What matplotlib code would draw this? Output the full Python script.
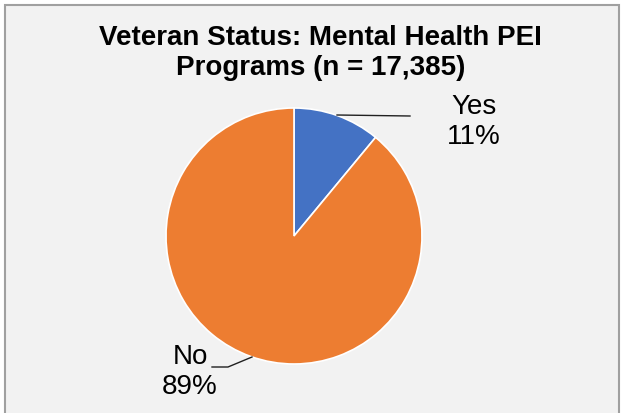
import matplotlib
matplotlib.use("Agg")
import matplotlib.pyplot as plt

categories = ["Yes", "No"]
values = [11, 89]
colors = ["#4472C4", "#ED7D31"]
title = "Veteran Status: Mental Health PEI\nPrograms (n = 17,385)"

plt.rcParams['font.family'] = ['Liberation Sans', 'DejaVu Sans']

W, H = 623, 414
fig = plt.figure(figsize=(W/100, H/100), dpi=100, facecolor="white")
ax = fig.add_axes([0, 0, 1, 1])
ax.set_xlim(0, W)
ax.set_ylim(0, H)
ax.set_aspect("equal")
ax.axis("off")

# background panel with border
bg = plt.Rectangle((4.5, -5), 615, H - 5.5 + 5, facecolor="#F2F2F2",
                   edgecolor="#A0A0A0", linewidth=1.5, zorder=0)
ax.add_patch(bg)

cx, cy, r = 294, H - 237, 128
wedges, _ = ax.pie(values, colors=colors, startangle=90, counterclock=False,
                   center=(cx, cy), radius=r, frame=True,
                   wedgeprops=dict(edgecolor="white", linewidth=1.2))
ax.set_xlim(0, W)
ax.set_ylim(0, H)
ax.axis("off")

ax.text(W/2 + 9, H - 53, title, ha="center", va="center", fontsize=20,
        fontweight="bold", linespacing=1.17)

fs = 20
ax.text(474, H - 122, f"{categories[0]}\n{values[0]}%", ha="center", va="center",
        fontsize=fs, linespacing=1.17)
ax.text(190, H - 372, f"{categories[1]}\n{values[1]}%", ha="center", va="center",
        fontsize=fs, linespacing=1.17)

# leader lines
ax.plot([337, 410], [H - 116, H - 117], color="#202020", lw=1)
ax.plot([252, 228, 212], [H - 358, H - 368, H - 368], color="#202020", lw=1)

fig.savefig("out.png", dpi=100, facecolor="white")
